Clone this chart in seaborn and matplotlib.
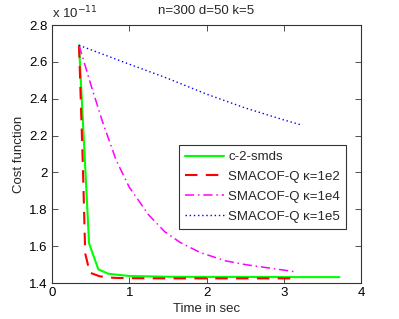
import numpy as np
import pandas as pd
import seaborn as sns
import matplotlib
matplotlib.use("Agg")
import matplotlib.pyplot as plt

# values, y in units of 1e-11
t_c2 = [0.35, 0.48, 0.60, 0.73, 1.0, 1.5, 2.0, 2.5, 3.0, 3.72]
c_c2 = [2.69, 1.615, 1.474, 1.45, 1.438, 1.434, 1.433, 1.433, 1.432, 1.432]

t_q2 = [0.35, 0.40, 0.43, 0.49, 0.62, 0.80, 1.0, 1.5, 2.0, 2.5, 3.18]
c_q2 = [2.69, 2.03, 1.56, 1.456, 1.436, 1.428, 1.426, 1.425, 1.425, 1.425, 1.425]

t_q4 = [0.35, 0.50, 0.65, 0.83, 1.0, 1.25, 1.46, 1.66, 1.92, 2.25, 2.5, 2.75, 3.0, 3.16]
c_q4 = [2.69, 2.48, 2.28, 2.067, 1.92, 1.77, 1.678, 1.62, 1.565, 1.52, 1.50, 1.485, 1.47, 1.46]

t_q5 = [0.35, 0.97, 1.5, 2.0, 2.5, 3.0, 3.24]
c_q5 = [2.69, 2.592, 2.51, 2.425, 2.35, 2.285, 2.256]

labels = ["c-2-smds", "SMACOF-Q κ=1e2", "SMACOF-Q κ=1e4", "SMACOF-Q κ=1e5"]
colors = ["#00ff00", "#ff0000", "#ff00ff", "#0000ff"]
styles = ["-", (0, (6, 4)), (0, (6, 2.5, 1, 2.5)), (0, (1, 2))]
widths = [1.5, 1.5, 1.1, 1.0]

sns.set_theme(style="white")
plt.rcParams['font.family'] = ['Liberation Sans', 'DejaVu Sans']

fig = plt.figure(figsize=(3.99, 3.19), dpi=100)
ax = fig.add_axes([52 / 399, 1 - 283 / 319, 309 / 399, 258 / 319])

series = [(t_c2, c_c2), (t_q2, c_q2), (t_q4, c_q4), (t_q5, c_q5)]
for (t, c), lab, col, ls, lw in zip(series, labels, colors, styles, widths):
    df = pd.DataFrame({"time": t, "cost": c})
    sns.lineplot(data=df, x="time", y="cost", ax=ax, color=col, linestyle=ls,
                 linewidth=lw, label=lab, sort=False, estimator=None)

ax.set_xlim(0, 4)
ax.set_ylim(1.4, 2.8)
ax.set_xticks([0, 1, 2, 3, 4])
ax.set_yticks([1.4, 1.6, 1.8, 2.0, 2.2, 2.4, 2.6, 2.8])
ax.set_yticklabels(["1.4", "1.6", "1.8", "2", "2.2", "2.4", "2.6", "2.8"])
ax.tick_params(direction="in", length=4, width=0.6, color="#333333",
               top=True, right=True, bottom=True, left=True,
               labelsize=9.5, pad=3, labelcolor="#000000")
for s in ax.spines.values():
    s.set_visible(True)
    s.set_color("#333333")
    s.set_linewidth(0.8)

ax.set_xlabel("Time in sec", fontsize=9.5, labelpad=3)
ax.set_ylabel("Cost function", fontsize=9.5, labelpad=3)
ax.set_title("n=300 d=50 k=5", fontsize=9.5, pad=8)
fig.text(52 / 399, 1 - 13 / 319, r"x 10$^{-11}$", fontsize=9.5, va="center", ha="left")

leg = ax.legend(loc="upper right", bbox_to_anchor=(0.951, 0.535), borderaxespad=0,
                fontsize=9.5, frameon=True, fancybox=False, handlelength=3.0,
                handletextpad=0.3, borderpad=0.45, labelspacing=0.58)
leg.get_frame().set_edgecolor("#000000")
leg.get_frame().set_linewidth(0.8)

fig.savefig("out.png", dpi=100)
